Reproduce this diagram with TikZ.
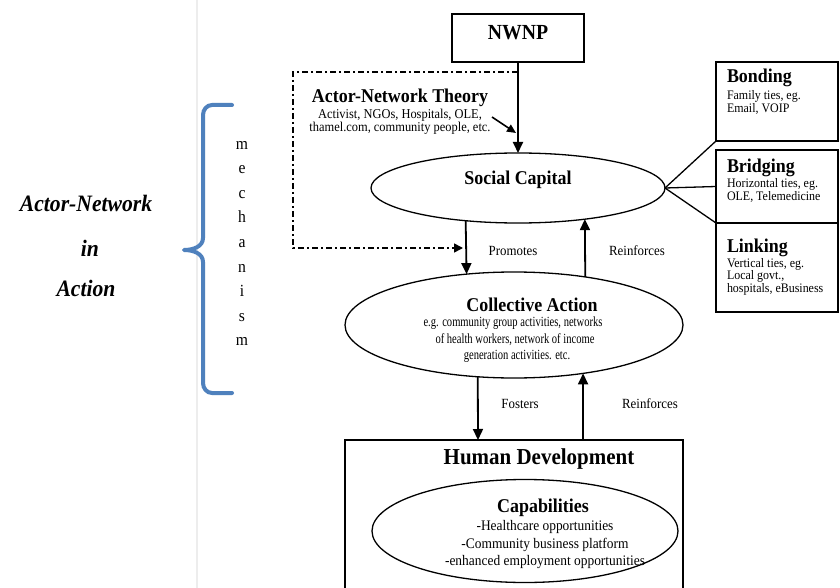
\documentclass[tikz,border=0pt]{standalone}
\usepackage{fontspec}
\setmainfont{Liberation Serif}[FakeStretch=0.92]
\usepackage{graphicx}
\usetikzlibrary{arrows.meta,shapes.geometric}
\definecolor{braceblue}{RGB}{79,129,189}
\begin{document}
\begin{tikzpicture}[x=1pt,y=-1pt,
  every node/.style={inner sep=0pt, outer sep=0pt},
  box/.style={draw, line width=1.5pt},
  ell/.style={draw, ellipse, line width=1.3pt},
  arr/.style={line width=1.8pt, -{Triangle[length=11pt,width=10pt]}},
  arrs/.style={line width=1.6pt, -{Triangle[length=9pt,width=8pt]}},
  dd/.style={line width=1.6pt, dash pattern=on 6pt off 3pt on 2pt off 3pt},
  ttl/.style={font=\fontsize{19.5}{21}\selectfont\bfseries},
  sml/.style={font=\fontsize{13}{14}\selectfont},
  lbl/.style={font=\fontsize{14}{16}\selectfont},
  side/.style={font=\fontsize{23.5}{25}\selectfont\bfseries\itshape},
  brace/.style={draw=braceblue, line width=4pt, line cap=round, line join=round},
]
\clip (0,0) rectangle (840,588);
\fill[white] (0,0) rectangle (840,588);
\draw[black!7, line width=1.5pt] (197,0) -- (197,588);

% left side
\node[side] (an1) at (86,203) {Actor-Network};
\node[side] (an2) at (90,248) {in};
\node[side] (an3) at (86,288) {Action};
\draw[brace] (232,105) -- (212,105) to[out=180,in=90] (203,115) -- (203,238)
  to[out=-90,in=0] (184,250) to[out=0,in=90] (203,262) -- (203,383)
  to[out=-90,in=180] (212,393) -- (232,393);
\node[font=\fontsize{17}{24.6}\selectfont, align=center] (mech) at (242,243.4)
  {m\\e\\c\\h\\a\\n\\i\\s\\m};

% NWNP
\node[box, minimum width=132pt, minimum height=48pt] (nw) at (518,38) {};
\node[font=\fontsize{21.5}{23}\selectfont\bfseries] (nwt) at (518,33) {NWNP};

% Actor-network theory
\node[ttl] (antt) at (400,98) {Actor-Network Theory};
\node[font=\fontsize{13.5}{14}\selectfont] (ant1) at (400,115) {Activist, NGOs, Hospitals, OLE,};
\node[font=\fontsize{13.5}{14}\selectfont] (ant2) at (400,128.5) {thamel.com, community people, etc.};

% Social capital
\node[ell, minimum width=294pt, minimum height=70pt] (sc) at (518,188) {};
\node[ttl] (sct) at (518,180) {Social Capital};

% right boxes
\node[box, anchor=north west, minimum width=122pt, minimum height=79pt] (bo) at (716,62) {};
\node[box, anchor=north west, minimum width=122pt, minimum height=73pt] (br) at (716,150) {};
\node[box, anchor=north west, minimum width=122pt, minimum height=89pt] (li) at (716,223) {};
\node[ttl, anchor=west] (bot) at (727,78) {Bonding};
\node[sml, anchor=west] (bo1) at (727,96.5) {Family ties, eg.};
\node[sml, anchor=west] (bo2) at (727,109) {Email, VOIP};
\node[ttl, anchor=west] (brt) at (727,168) {Bridging};
\node[sml, anchor=west] (br1) at (727,184.5) {Horizontal ties, eg.};
\node[sml, anchor=west] (br2) at (727,197) {OLE, Telemedicine};
\node[ttl, anchor=west] (lit) at (727,248) {Linking};
\node[sml, anchor=west] (li1) at (727,264) {Vertical ties, eg.};
\node[sml, anchor=west] (li2) at (727,276.5) {Local govt.,};
\node[sml, anchor=west] (li3) at (727,289) {hospitals, eBusiness};
\draw[line width=1.3pt] (sc.east) -- (bo.south west);
\draw[line width=1.3pt] (sc.east) -- (br.west);
\draw[line width=1.3pt] (sc.east) -- (br.south west);

% Collective action
\node[ell, minimum width=338pt, minimum height=106pt] (ca) at (514,325) {};
\node[ttl] (cat) at (532,304.5) {Collective Action};
\node[font=\fontsize{14}{16}\selectfont] (ca1) at (513,323) {\scalebox{0.82}[1]{e.g. community group activities, networks}};
\node[font=\fontsize{14}{16}\selectfont] (ca2) at (515,339.5) {\scalebox{0.82}[1]{of health workers, network of income}};
\node[font=\fontsize{14}{16}\selectfont] (ca3) at (517,356) {\scalebox{0.82}[1]{generation activities. etc.}};

% Human development
\node[box, anchor=north west, minimum width=338pt, minimum height=160pt] (hd) at (345,440) {};
\node[font=\fontsize{22.8}{24}\selectfont\bfseries] (hdt) at (539,459) {Human Development};
\node[ell, minimum width=306pt, minimum height=103pt] (cp) at (525,531) {};
\node[ttl] (cpt) at (543,508) {Capabilities};
\node[font=\fontsize{14.6}{16}\selectfont] (cp1) at (545,527) {-Healthcare opportunities};
\node[font=\fontsize{14.6}{16}\selectfont] (cp2) at (545,544.5) {-Community business platform};
\node[font=\fontsize{14.6}{16}\selectfont] (cp3) at (545,562) {-enhanced employment opportunities};

% connectors
\draw[arr] (nw.south) -- (sc.north);
\coordinate (ddtr) at (518,72);
\coordinate (ddtl) at (293,72);
\coordinate (ddbl) at (293,248);
\coordinate (ddend) at (463,248);
\draw[dd, -{Triangle[length=9pt,width=9pt]}] (ddtr) -- (ddtl) -- (ddbl) -- (ddend);
\coordinate (antst) at (492,117);
\coordinate (antend) at (516,133);
\draw[arrs] (antst) -- (antend);

\draw[arr] (sc.212.2) -- (ca.133.4);
\draw[arr] (ca.34.55) -- (sc.-25.4);
\node[lbl] (pro) at (513,251) {Promotes};
\node[lbl] (rei1) at (637,251) {Reinforces};

\draw[arr] (ca.235.2) -- ([xshift=-36pt]hd.north);
\draw[arr] ([xshift=69pt]hd.north) -- (ca.-35.04);
\node[lbl] (fos) at (520,404) {Fosters};
\node[lbl] (rei2) at (650,404) {Reinforces};
\end{tikzpicture}
\end{document}
